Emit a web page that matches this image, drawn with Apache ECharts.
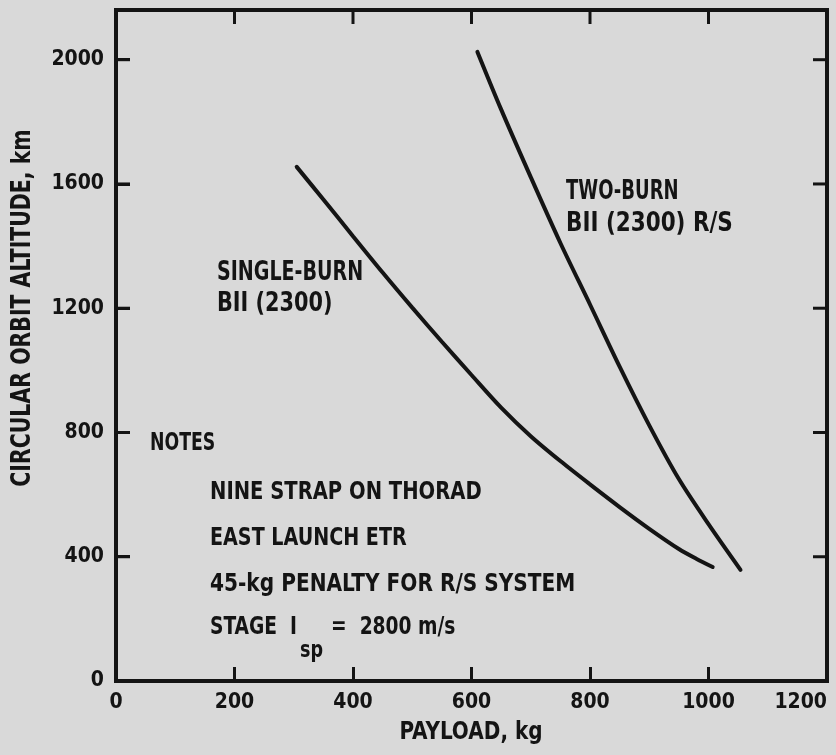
<!DOCTYPE html>
<html>
<head>
<meta charset="utf-8">
<script src="https://cdn.jsdelivr.net/npm/echarts@6/dist/echarts.min.js"></script>
<style>
  html, body { margin: 0; padding: 0; background: #d9d9d9; }
  #main { width: 836px; height: 755px; }
</style>
</head>
<body>
<div id="main"></div>
<script>
// payload (kg) vs circular orbit altitude (km)
var singleX = [305, 350, 400, 450, 500, 550, 600, 650, 700, 750, 800, 850, 900, 950, 980, 1007];
var singleY = [1655, 1550, 1432, 1315, 1202, 1092, 985, 880, 788, 708, 633, 560, 490, 425, 393, 367];
var twoX = [610, 650, 700, 750, 800, 850, 900, 950, 1000, 1054];
var twoY = [2025, 1840, 1622, 1410, 1212, 1012, 823, 650, 505, 358];
var xTicks = [0, 200, 400, 600, 800, 1000, 1200];
var yTicks = [0, 400, 800, 1200, 1600, 2000];
var yMax = 2160;

var ink = '#141414';
var labelFont = '"DejaVu Sans Condensed", "DejaVu Sans", sans-serif';

function pairs(xs, ys) {
  var out = [];
  for (var i = 0; i < xs.length; i++) out.push([xs[i], ys[i]]);
  return out;
}

// the typewriter lettering is narrower than DejaVu, so each line gets squeezed
function txt(x, y, text, size, sx, extra) {
  var st = {
    text: text,
    fill: ink,
    font: 'bold ' + size + 'px ' + labelFont,
    align: 'left',
    verticalAlign: 'middle'
  };
  for (var k in extra) st[k] = extra[k];
  return { type: 'text', x: x, y: y, scaleX: sx, style: st, z: 10 };
}

var myChart = echarts.init(document.getElementById('main'));

// only the listed tick values get a label (hides the 2160 top end)
function tickLabel(list) {
  return function (v) { return list.indexOf(v) >= 0 ? String(v) : ''; };
}
var tickLen = 14;
var tickStyle = { color: ink, width: 3 };

var texts = [
  txt(23, 308, 'CIRCULAR ORBIT ALTITUDE, km', 26, 0.875, { align: 'center' }),
  txt(471, 732, 'PAYLOAD, kg', 25, 0.89, { align: 'center' }),
  txt(217, 273, 'SINGLE-BURN', 26, 0.815),
  txt(217, 304, 'BII (2300)', 26, 0.89),
  txt(566, 192, 'TWO-BURN', 26, 0.77),
  txt(566, 224, 'BII (2300) R/S', 26, 0.92),
  txt(150, 443, 'NOTES', 25, 0.77),
  txt(210, 492, 'NINE STRAP ON THORAD', 25, 0.87),
  txt(210, 538, 'EAST LAUNCH ETR', 25, 0.85),
  txt(210, 584, '45-kg PENALTY FOR R/S SYSTEM', 25, 0.895),
  txt(210, 627, 'STAGE  I', 25, 0.83),
  txt(300, 651, 'sp', 23, 0.85),
  txt(331, 627, '=  2800 m/s', 25, 0.83)
];
texts[0].rotation = Math.PI / 2;

var option = {
  backgroundColor: '#d9d9d9',
  animation: false,
  grid: {
    left: 116, right: 9, top: 10, bottom: 74,
    outerBoundsMode: 'none',
    show: true, borderColor: ink, borderWidth: 4, backgroundColor: 'transparent'
  },
  xAxis: {
    type: 'value', min: xTicks[0], max: xTicks[xTicks.length - 1], interval: xTicks[1] - xTicks[0],
    axisLine: { show: false },
    splitLine: { show: false },
    axisTick: { show: true, inside: true, length: tickLen, lineStyle: tickStyle },
    axisLabel: {
      margin: 11, color: ink, formatter: tickLabel(xTicks), alignMaxLabel: 'right',
      fontFamily: labelFont, fontWeight: 'bold', fontSize: 21
    }
  },
  yAxis: {
    type: 'value', min: yTicks[0], max: yMax, interval: yTicks[1] - yTicks[0],
    axisLine: { show: false },
    splitLine: { show: false },
    axisTick: { show: true, inside: true, length: tickLen, lineStyle: tickStyle },
    axisLabel: {
      margin: 12, color: ink, formatter: tickLabel(yTicks),
      fontFamily: labelFont, fontWeight: 'bold', fontSize: 21
    }
  },
  graphic: texts,
  series: [{
    name: 'SINGLE-BURN BII (2300)',
    type: 'line',
    data: pairs(singleX, singleY),
    smooth: 0.3,
    showSymbol: false,
    lineStyle: { color: ink, width: 4, cap: 'round' }
  }, {
    name: 'TWO-BURN BII (2300) R/S',
    type: 'line',
    data: pairs(twoX, twoY),
    smooth: 0.3,
    showSymbol: false,
    lineStyle: { color: ink, width: 4, cap: 'round' }
  }]
};

myChart.setOption(option);

// frame ticks on the top, right and left edges, placed through the axis scales
function tickLine(x1, y1, x2, y2) {
  return { type: 'line', shape: { x1: x1, y1: y1, x2: x2, y2: y2 },
    style: { stroke: ink, lineWidth: 3 }, z: 5 };
}
var frameTicks = [];
var xEnd = xTicks[xTicks.length - 1];
xTicks.slice(1, -1).forEach(function (v) {
  var p = myChart.convertToPixel({ gridIndex: 0 }, [v, yMax]);
  frameTicks.push(tickLine(p[0], p[1], p[0], p[1] + tickLen));
});
yTicks.slice(1).forEach(function (v) {
  var r = myChart.convertToPixel({ gridIndex: 0 }, [xEnd, v]);
  frameTicks.push(tickLine(r[0], r[1], r[0] - tickLen, r[1]));
  var l = myChart.convertToPixel({ gridIndex: 0 }, [xTicks[0], v]);
  frameTicks.push(tickLine(l[0], l[1], l[0] + tickLen, l[1]));
});
myChart.setOption({ graphic: texts.concat(frameTicks) });
</script>
</body>
</html>
